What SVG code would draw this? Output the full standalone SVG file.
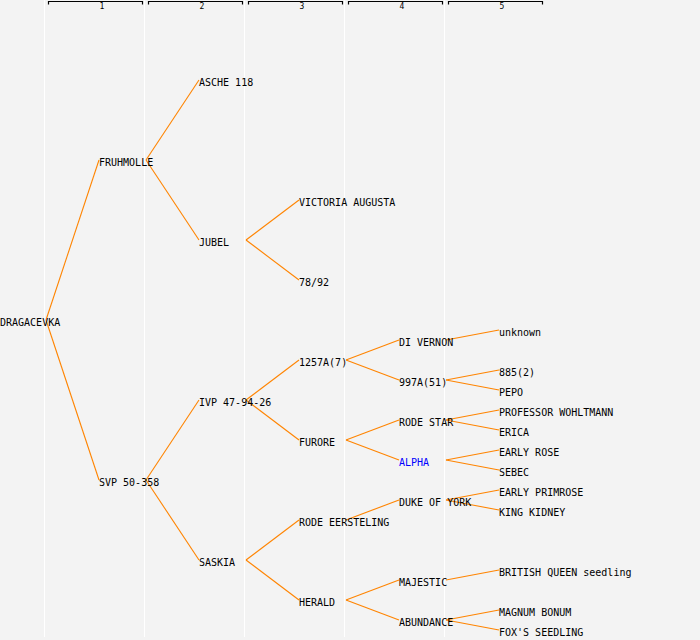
<svg xmlns="http://www.w3.org/2000/svg" width="700" height="640" viewBox="0 0 700 640">
<style>
.bg{fill:#f3f3f3}
.grid{stroke:#ffffff;stroke-width:1}
.br{fill:none;stroke:#000;stroke-width:1.2}
.hd{font-family:"DejaVu Sans Mono",monospace;font-size:8px;fill:#000;text-anchor:middle}
.n{font-family:"DejaVu Sans Mono","Liberation Mono",monospace;font-size:10px;fill:#000}
.hl{fill:#0000ff}
.c line{stroke:#ff8400;stroke-width:1.1}
</style>
<rect class="bg" x="0" y="0" width="700" height="640"/>
<g id="grid">
<line class="grid" x1="44.5" y1="0" x2="44.5" y2="637"/>
<line class="grid" x1="144.5" y1="0" x2="144.5" y2="637"/>
<line class="grid" x1="244.5" y1="0" x2="244.5" y2="637"/>
<line class="grid" x1="344.5" y1="0" x2="344.5" y2="637"/>
<line class="grid" x1="444.5" y1="0" x2="444.5" y2="637"/>
</g>
<g id="header">
<path class="br" d="M48.5,4.5 V1.5 H142.5 V4.5"/>
<path class="br" d="M148.5,4.5 V1.5 H242.5 V4.5"/>
<path class="br" d="M248.5,4.5 V1.5 H342.5 V4.5"/>
<path class="br" d="M348.5,4.5 V1.5 H442.5 V4.5"/>
<path class="br" d="M448.5,4.5 V1.5 H542.5 V4.5"/>
<text class="hd" x="102" y="9">1</text>
<text class="hd" x="202" y="9">2</text>
<text class="hd" x="302" y="9">3</text>
<text class="hd" x="402" y="9">4</text>
<text class="hd" x="502" y="9">5</text>
</g>
<g id="connectors" class="c">
<line x1="46" y1="320" x2="99" y2="160"/>
<line x1="46" y1="320" x2="99" y2="480"/>
<line x1="146" y1="160" x2="199" y2="80"/>
<line x1="146" y1="160" x2="199" y2="240"/>
<line x1="146" y1="480" x2="199" y2="400"/>
<line x1="146" y1="480" x2="199" y2="560"/>
<line x1="246" y1="240" x2="299" y2="200"/>
<line x1="246" y1="240" x2="299" y2="280"/>
<line x1="246" y1="400" x2="299" y2="360"/>
<line x1="246" y1="400" x2="299" y2="440"/>
<line x1="246" y1="560" x2="299" y2="520"/>
<line x1="246" y1="560" x2="299" y2="600"/>
<line x1="346" y1="360" x2="399" y2="340"/>
<line x1="346" y1="360" x2="399" y2="380"/>
<line x1="346" y1="440" x2="399" y2="420"/>
<line x1="346" y1="440" x2="399" y2="460"/>
<line x1="346" y1="520" x2="399" y2="500"/>
<line x1="346" y1="600" x2="399" y2="580"/>
<line x1="346" y1="600" x2="399" y2="620"/>
<line x1="446" y1="340" x2="499" y2="330"/>
<line x1="446" y1="380" x2="499" y2="370"/>
<line x1="446" y1="380" x2="499" y2="390"/>
<line x1="446" y1="420" x2="499" y2="410"/>
<line x1="446" y1="420" x2="499" y2="430"/>
<line x1="446" y1="460" x2="499" y2="450"/>
<line x1="446" y1="460" x2="499" y2="470"/>
<line x1="446" y1="500" x2="499" y2="490"/>
<line x1="446" y1="500" x2="499" y2="510"/>
<line x1="446" y1="580" x2="499" y2="570"/>
<line x1="446" y1="620" x2="499" y2="610"/>
<line x1="446" y1="620" x2="499" y2="630"/>
</g>
<g id="n-dragacevka"><text class="n" x="0" y="326">DRAGACEVKA</text></g>
<g id="n-fruhmolle"><text class="n" x="99" y="166">FRUHMOLLE</text></g>
<g id="n-svp"><text class="n" x="99" y="486">SVP 50-358</text></g>
<g id="n-asche"><text class="n" x="199" y="86">ASCHE 118</text></g>
<g id="n-jubel"><text class="n" x="199" y="246">JUBEL</text></g>
<g id="n-ivp"><text class="n" x="199" y="406">IVP 47-94-26</text></g>
<g id="n-saskia"><text class="n" x="199" y="566">SASKIA</text></g>
<g id="n-victoria"><text class="n" x="299" y="206">VICTORIA AUGUSTA</text></g>
<g id="n-7892"><text class="n" x="299" y="286">78/92</text></g>
<g id="n-1257a"><text class="n" x="299" y="366">1257A(7)</text></g>
<g id="n-furore"><text class="n" x="299" y="446">FURORE</text></g>
<g id="n-rode-eersteling"><text class="n" x="299" y="526">RODE EERSTELING</text></g>
<g id="n-herald"><text class="n" x="299" y="606">HERALD</text></g>
<g id="n-di-vernon"><text class="n" x="399" y="346">DI VERNON</text></g>
<g id="n-997a"><text class="n" x="399" y="386">997A(51)</text></g>
<g id="n-rode-star"><text class="n" x="399" y="426">RODE STAR</text></g>
<g id="n-alpha"><text class="n hl" x="399" y="466">ALPHA</text></g>
<g id="n-duke"><text class="n" x="399" y="506">DUKE OF YORK</text></g>
<g id="n-majestic"><text class="n" x="399" y="586">MAJESTIC</text></g>
<g id="n-abundance"><text class="n" x="399" y="626">ABUNDANCE</text></g>
<g id="n-unknown"><text class="n" x="499" y="336">unknown</text></g>
<g id="n-885"><text class="n" x="499" y="376">885(2)</text></g>
<g id="n-pepo"><text class="n" x="499" y="396">PEPO</text></g>
<g id="n-professor"><text class="n" x="499" y="416">PROFESSOR WOHLTMANN</text></g>
<g id="n-erica"><text class="n" x="499" y="436">ERICA</text></g>
<g id="n-early-rose"><text class="n" x="499" y="456">EARLY ROSE</text></g>
<g id="n-sebec"><text class="n" x="499" y="476">SEBEC</text></g>
<g id="n-early-primrose"><text class="n" x="499" y="496">EARLY PRIMROSE</text></g>
<g id="n-king-kidney"><text class="n" x="499" y="516">KING KIDNEY</text></g>
<g id="n-british-queen"><text class="n" x="499" y="576">BRITISH QUEEN seedling</text></g>
<g id="n-magnum"><text class="n" x="499" y="616">MAGNUM BONUM</text></g>
<g id="n-fox"><text class="n" x="499" y="636">FOX'S SEEDLING</text></g>
</svg>
